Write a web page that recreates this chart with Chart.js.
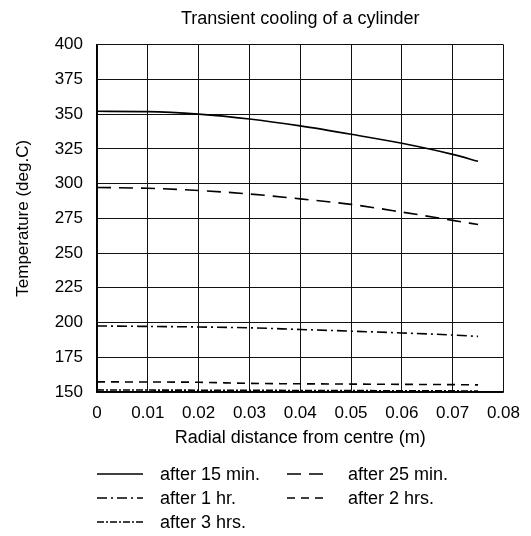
<!DOCTYPE html>
<html lang="en">
<head>
<meta charset="UTF-8">
<title>Transient cooling of a cylinder</title>
<script src="https://cdn.jsdelivr.net/npm/chart.js"></script>
<style>
  html, body { margin: 0; padding: 0; background: #fff; }
</style>
</head>
<body>
<canvas id="coolChart" width="531" height="536"></canvas>
<script>
// radial position from the centre (m)
const radius = [0, 0.01, 0.02, 0.03, 0.04, 0.05, 0.06, 0.07, 0.075];

// temperature profiles (deg C) at each radius
const after15min = [352, 351.8, 350, 346.5, 341.5, 335.5, 329, 321, 316];
const after25min = [297.2, 296.6, 295, 292.5, 289, 285, 279.5, 273.5, 270.5];
const after1hr = [197.5, 197.2, 196.8, 196.2, 195, 193.8, 192.5, 191, 190];
const after2hrs = [157.3, 157.2, 157, 156.2, 155.9, 155.7, 155.5, 155.3, 155.1];
const after3hrs = [151.5, 151.4, 151.3, 151.2, 151.1, 151, 150.9, 150.8, 150.7];

const seriesNames = ["after 15 min.", "after 25 min.", "after 1 hr.", "after 2 hrs.", "after 3 hrs."];
const seriesValues = [after15min, after25min, after1hr, after2hrs, after3hrs];
const seriesDash = [[], [14, 8], [10, 4, 2, 4], [8, 6], [7, 2, 2, 2]];

const FONT = 'Arial, "Liberation Sans", sans-serif';

const datasets = seriesNames.map((name, i) => ({
  label: name,
  data: radius.map((r, j) => ({ x: r, y: seriesValues[i][j] })),
  borderColor: '#000',
  borderWidth: 1.6,
  borderDash: seriesDash[i],
  pointRadius: 0,
  fill: false,
  cubicInterpolationMode: 'monotone'
}));

// legend in two columns under the x axis title
const bottomLegend = {
  id: 'bottomLegend',
  afterDraw(chart) {
    const ctx = chart.ctx;
    const cols = [{ x0: 97, x1: 143, tx: 160 }, { x0: 287, x1: 325, tx: 348 }];
    const rows = [475, 499, 523];
    chart.data.datasets.forEach((ds, i) => {
      const c = cols[i % 2];
      const y = rows[Math.floor(i / 2)];
      ctx.save();
      ctx.strokeStyle = '#000';
      ctx.lineWidth = 1.4;
      ctx.setLineDash(ds.borderDash);
      ctx.beginPath();
      ctx.moveTo(c.x0, y - 1);
      ctx.lineTo(c.x1, y - 1);
      ctx.stroke();
      ctx.setLineDash([]);
      ctx.fillStyle = '#000';
      ctx.font = '18px ' + FONT;
      ctx.textBaseline = 'middle';
      ctx.fillText(ds.label, c.tx, y);
      ctx.restore();
    });
  }
};

new Chart(document.getElementById('coolChart'), {
  type: 'line',
  data: { datasets: datasets },
  plugins: [bottomLegend],
  options: {
    responsive: false,
    animation: false,
    layout: { padding: { top: 0, left: 0, right: 22, bottom: 87 } },
    plugins: {
      legend: { display: false },
      tooltip: { enabled: false },
      title: {
        display: true,
        text: 'Transient cooling of a cylinder',
        fullSize: false,
        color: '#000',
        font: { family: FONT, size: 18, weight: 'normal' },
        padding: { top: 8, bottom: 15 }
      }
    },
    scales: {
      x: {
        type: 'linear',
        min: 0,
        max: 0.08,
        afterFit: s => { s.height = 57; },
        ticks: {
          stepSize: 0.01,
          padding: 11,
          color: '#000',
          maxRotation: 0,
          font: { family: FONT, size: 17 },
          callback: v => String(+v.toFixed(2))
        },
        grid: { color: '#111', lineWidth: 1, drawTicks: false },
        border: { color: '#000', width: 1.5 },
        title: {
          display: true,
          text: 'Radial distance from centre (m)',
          color: '#000',
          font: { family: FONT, size: 18 },
          padding: 0
        }
      },
      y: {
        min: 150,
        max: 400,
        afterFit: s => { s.width = 97; },
        ticks: {
          stepSize: 25,
          padding: 14,
          color: '#000',
          font: { family: FONT, size: 17 }
        },
        grid: { color: '#111', lineWidth: 1, drawTicks: false },
        border: { color: '#000', width: 1.5 },
        title: {
          display: true,
          text: 'Temperature (deg.C)',
          color: '#000',
          font: { family: FONT, size: 17 },
          padding: { top: 13, bottom: 0 }
        }
      }
    }
  }
});
</script>
</body>
</html>
